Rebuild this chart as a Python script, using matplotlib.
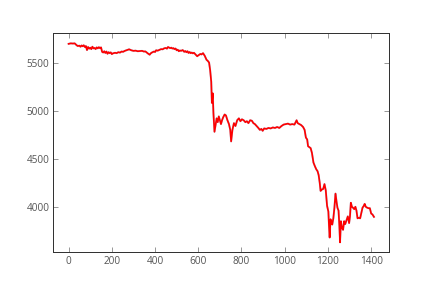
import matplotlib
matplotlib.use("Agg")
from matplotlib import pyplot as plt

# 数据
x = [0, 10, 20, 28, 35, 42, 50, 55, 60, 65, 70, 75, 80, 85, 90, 95, 100, 105, 110,
     115, 120, 125, 130, 135, 140, 145, 150, 155, 160, 165, 170, 175, 180, 185, 190,
     195, 200, 205, 215, 222, 230, 238, 245, 252, 260, 270, 280, 290, 300, 310, 320,
     330, 340, 348, 355, 360, 365, 370, 375, 380, 385, 395, 400, 405, 412, 420, 428,
     435, 442, 450, 455, 460, 465, 470, 475, 480, 485, 490, 495, 500, 505, 510, 515,
     520, 528, 535, 540, 545, 550, 555, 560, 565, 570, 575, 580, 585, 590, 595, 600,
     605, 610, 615, 622, 630, 638, 645, 650, 655, 660,
     663, 667, 670, 675, 680, 685, 690, 695, 700, 705, 710, 715, 722, 728, 735, 742,
     748, 752, 758, 765, 772, 780, 788, 795, 802, 810, 818, 825, 832, 840, 848, 855,
     862, 870, 878, 885, 892, 898, 905, 915, 925, 935, 945, 955, 965, 975, 985, 995,
     1005, 1015, 1025, 1035, 1045, 1055, 1060, 1068, 1076, 1085, 1092, 1098, 1104,
     1108, 1114, 1120, 1126, 1133, 1140, 1146, 1152, 1157, 1162, 1166, 1172, 1178,
     1184, 1190, 1196, 1202, 1205, 1208, 1212, 1216, 1220, 1225, 1230, 1235, 1240,
     1244, 1249, 1253, 1256, 1260, 1265, 1270, 1275, 1280, 1286, 1292, 1298, 1302,
     1306, 1311, 1316, 1322, 1327, 1332, 1337, 1343, 1349, 1355, 1360, 1366, 1370,
     1375, 1382, 1388, 1394, 1400, 1406, 1413]
y = [5695, 5700, 5698, 5700, 5685, 5672, 5676, 5665, 5678, 5670, 5680, 5662, 5672,
     5630, 5662, 5645, 5655, 5640, 5665, 5648, 5652, 5640, 5658, 5648, 5660, 5650,
     5658, 5612, 5605, 5618, 5600, 5615, 5592, 5608, 5598, 5606, 5588, 5596, 5602,
     5598, 5608, 5604, 5615, 5612, 5622, 5630, 5638, 5628, 5622, 5624, 5618, 5620,
     5622, 5615, 5616, 5608, 5598, 5590, 5582, 5596, 5604, 5615, 5610, 5628, 5624,
     5632, 5640, 5638, 5648, 5652, 5645, 5662, 5656, 5650, 5655, 5646, 5650, 5640,
     5646, 5628, 5634, 5618, 5626, 5622, 5630, 5612, 5620, 5608, 5618, 5600, 5610,
     5598, 5604, 5596, 5602, 5590, 5578, 5566, 5575, 5582, 5590, 5585, 5598, 5570,
     5530, 5515, 5500, 5420, 5300,
     5080, 5180, 4980, 4780, 4850, 4920, 4880, 4940, 4900, 4860, 4900, 4930,
     4960, 4950, 4900, 4860, 4800, 4680, 4800, 4870, 4840, 4900, 4920, 4890, 4910,
     4900, 4880, 4890, 4870, 4900, 4895, 4870, 4860, 4840, 4820, 4800, 4810, 4790,
     4815, 4810, 4820, 4815, 4825, 4820, 4830, 4820, 4840, 4855, 4860, 4865, 4855,
     4860, 4855, 4900, 4870, 4860, 4850, 4830, 4800, 4720, 4700, 4630, 4620, 4610,
     4560, 4460, 4420, 4390, 4370, 4330, 4250, 4165, 4180, 4185, 4236, 4170, 4010,
     3950, 3800, 3680, 3870, 3830, 3815, 3880, 3990, 4137, 4050, 3990, 3960, 3800,
     3630, 3850, 3780, 3760, 3850, 3820, 3860, 3900, 3830, 3900, 4042, 4000, 3990,
     3975, 4000, 3960, 3880, 3885, 3880, 3940, 3990, 4010, 4030, 4000, 3990, 3985,
     3985, 3930, 3920, 3895]

plt.rcParams['font.family'] = ['Open Sans', 'DejaVu Sans']

fig = plt.figure(figsize=(6, 4), dpi=72)
ax = fig.add_axes([0.1235, 0.124, 0.7775, 0.76])

# 画线
ax.plot(x, y, color='#6f8fc0', linewidth=2.0, alpha=0.45)
ax.plot(x, y, color='#ff0000', linewidth=1.7)

ax.set_xticks([0, 200, 400, 600, 800, 1000, 1200, 1400])
ax.set_yticks([4000, 4500, 5000, 5500])
ax.tick_params(axis='both', direction='in', length=5, width=1, color='#999999',
               labelcolor='#555555', labelsize=10, top=True, right=True, pad=4)
for s in ax.spines.values():
    s.set_color('#333333')
    s.set_linewidth(1)

plt.savefig('out.png', dpi=72)
plt.close()
